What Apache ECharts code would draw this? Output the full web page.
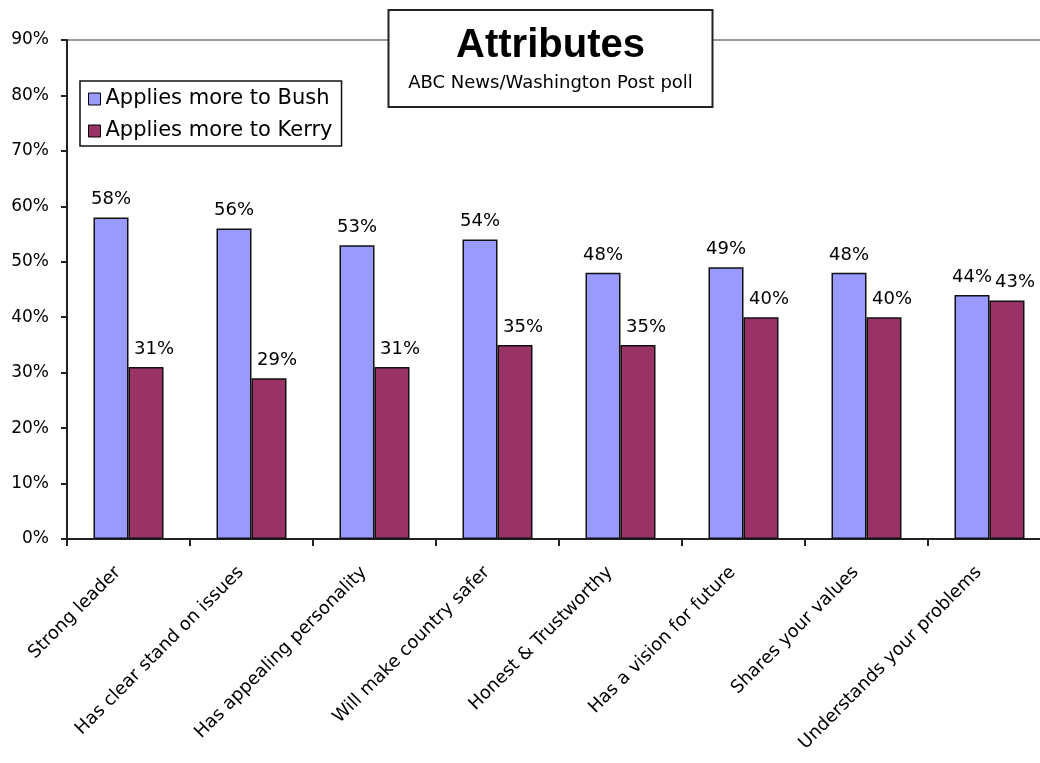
<!DOCTYPE html>
<html>
<head>
<meta charset="utf-8">
<script src="https://cdn.jsdelivr.net/npm/echarts@6/dist/echarts.min.js"></script>
<style>html,body{margin:0;padding:0;background:#fff;}#c{width:1040px;height:763px;}</style>
</head>
<body>
<div id="c"></div>
<script>
const categories = ["Strong leader","Has clear stand on issues","Has appealing personality","Will make country safer","Honest & Trustworthy","Has a vision for future","Shares your values","Understands your problems"];
const bushValues = [58,56,53,54,48,49,48,44];
const kerryValues = [31,29,31,35,35,40,40,43];
const seriesNames = ["Applies more to Bush","Applies more to Kerry"];
const yTicks = {min:0, max:90, interval:10};

const F = "DejaVu Sans";
const chart = echarts.init(document.getElementById('c'), null, {renderer:'canvas'});
const labelStyle = {show:true, position:'top', distance:9, fontFamily:F, fontSize:18, color:'#000', formatter:'{c}%'};
chart.setOption({
  backgroundColor:'#fff',
  animation:false,
  title:{
    text:'Attributes', subtext:'ABC News/Washington Post poll',
    left:531, top:10, textAlign:'center',
    padding:[16,19.5,15,19.5], itemGap:8,
    backgroundColor:'#fff', borderColor:'#222', borderWidth:2,
    textStyle:{fontFamily:'Liberation Sans', fontWeight:'bold', fontSize:40, color:'#000', lineHeight:40},
    subtextStyle:{fontFamily:F, fontSize:18, color:'#000', lineHeight:18}
  },
  legend:{
    orient:'vertical', left:80, top:81,
    padding:[7,9,4,8], itemGap:10, itemWidth:12, itemHeight:12, itemTextGap:6,
    backgroundColor:'#fff', borderColor:'#111', borderWidth:1.5,
    textStyle:{fontFamily:F, fontSize:21, color:'#000', lineHeight:22},
    itemStyle:{borderColor:'#000', borderWidth:1},
    data:seriesNames.map(n=>({name:n, icon:'rect'}))
  },
  grid:{left:67, top:40, bottom:224, width:984, outerBoundsMode:'none', containLabel:false, show:true, borderColor:'#999', borderWidth:2, backgroundColor:'transparent'},
  xAxis:{
    type:'category', data:categories,
    axisLine:{show:true, lineStyle:{color:'#222', width:2}},
    axisTick:{show:true, length:7, inside:false, lineStyle:{color:'#222', width:2}},
    axisLabel:{rotate:45, margin:20, padding:[0,15,0,0], fontFamily:F, fontSize:18, color:'#000', interval:0}
  },
  yAxis:{
    type:'value', min:yTicks.min, max:yTicks.max, interval:yTicks.interval,
    axisLine:{show:true, lineStyle:{color:'#222', width:2}},
    axisTick:{show:true, length:6, lineStyle:{color:'#222', width:2}},
    splitLine:{show:false},
    axisLabel:{formatter:'{value}%', margin:18, fontFamily:F, fontSize:17, color:'#000'}
  },
  series:[
    {name:seriesNames[0], type:'bar', data:bushValues, barWidth:35, barGap:'0%',
     itemStyle:{color:'#9999FF', borderColor:'#111', borderWidth:1.5}, label:labelStyle},
    {name:seriesNames[1], type:'bar', data:kerryValues, barWidth:35, barGap:'0%',
     itemStyle:{color:'#993366', borderColor:'#111', borderWidth:1.5}, label:Object.assign({}, labelStyle, {offset:[8,0]})}
  ]
});
</script>
</body>
</html>
